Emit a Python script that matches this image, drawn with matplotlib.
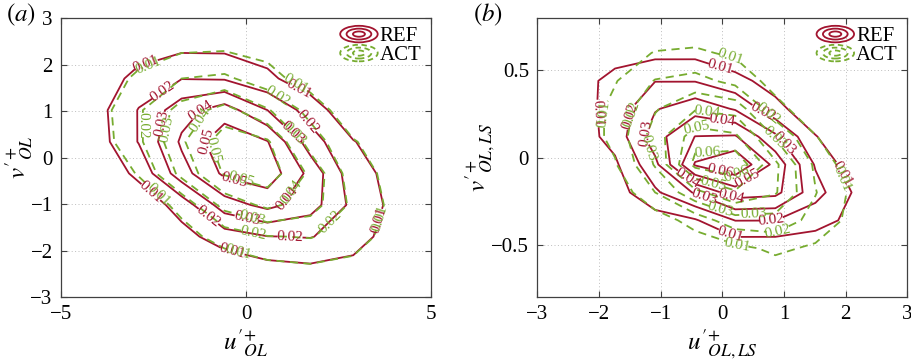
import matplotlib
matplotlib.use("Agg")
import numpy as np
import matplotlib.pyplot as plt
from matplotlib.legend_handler import HandlerBase
from matplotlib.patches import Ellipse
from matplotlib.lines import Line2D
from matplotlib.ticker import FuncFormatter, MultipleLocator

plt.rcParams["font.family"] = "serif"
plt.rcParams["font.serif"] = ["Liberation Serif", "DejaVu Serif"]
plt.rcParams["mathtext.fontset"] = "stix"

levels = [0.01, 0.02, 0.03, 0.04, 0.05, 0.06]

# ---- (a) joint PDF of u'+ and v'+ (bin centres, rows = v, columns = u) ----
u_a = [-4.06, -2.90, -1.74, -0.58, 0.58, 1.74, 2.90, 4.06]
v_a = [-2.38, -1.70, -1.02, -0.34, 0.34, 1.02, 1.70, 2.38]
pdf_ref_a = [
    [0.0001, 0.0004, 0.0020, 0.0030, 0.0066, 0.0082, 0.0065, 0.0015],
    [0.0002, 0.0012, 0.0065, 0.0149, 0.0197, 0.0205, 0.0150, 0.0044],
    [0.0005, 0.0031, 0.0140, 0.0353, 0.0430, 0.0345, 0.0172, 0.0069],
    [0.0015, 0.0125, 0.0360, 0.0520, 0.0562, 0.0370, 0.0137, 0.0068],
    [0.0049, 0.0205, 0.0416, 0.0567, 0.0505, 0.0247, 0.0105, 0.0030],
    [0.0060, 0.0205, 0.0360, 0.0450, 0.0300, 0.0155, 0.0020, 0.0008],
    [0.0020, 0.0140, 0.0197, 0.0190, 0.0121, 0.0040, 0.0010, 0.0003],
    [0.0010, 0.0040, 0.0077, 0.0076, 0.0055, 0.0015, 0.0004, 0.0001],
]
pdf_act_a = [
    [0.0001, 0.0004, 0.0018, 0.0030, 0.0066, 0.0083, 0.0066, 0.0016],
    [0.0002, 0.0010, 0.0060, 0.0142, 0.0195, 0.0206, 0.0152, 0.0045],
    [0.0004, 0.0027, 0.0130, 0.0335, 0.0425, 0.0350, 0.0175, 0.0070],
    [0.0012, 0.0108, 0.0330, 0.0510, 0.0560, 0.0380, 0.0140, 0.0068],
    [0.0040, 0.0180, 0.0385, 0.0555, 0.0515, 0.0255, 0.0108, 0.0031],
    [0.0050, 0.0185, 0.0340, 0.0440, 0.0310, 0.0165, 0.0024, 0.0009],
    [0.0017, 0.0125, 0.0200, 0.0220, 0.0140, 0.0048, 0.0012, 0.0003],
    [0.0008, 0.0036, 0.0076, 0.0082, 0.0062, 0.0018, 0.0005, 0.0001],
]

# ---- (b) joint PDF of the large-scale parts ----
u_b = [-2.39, -1.74, -1.09, -0.44, 0.21, 0.86, 1.51, 2.16]
v_b = [-0.68, -0.52, -0.36, -0.20, -0.04, 0.12, 0.28, 0.44, 0.60, 0.76]
pdf_ref_b = [
    [0.0000, 0.0001, 0.0004, 0.0008, 0.0010, 0.0008, 0.0010, 0.0008],
    [0.0001, 0.0005, 0.0015, 0.0030, 0.0030, 0.0030, 0.0045, 0.0030],
    [0.0003, 0.0015, 0.0050, 0.0090, 0.0202, 0.0201, 0.0133, 0.0075],
    [0.0010, 0.0051, 0.0183, 0.0310, 0.0450, 0.0429, 0.0240, 0.0085],
    [0.0025, 0.0083, 0.0273, 0.0610, 0.0690, 0.0470, 0.0190, 0.0030],
    [0.0045, 0.0135, 0.0360, 0.0502, 0.0510, 0.0320, 0.0105, 0.0010],
    [0.0052, 0.0139, 0.0291, 0.0363, 0.0290, 0.0130, 0.0030, 0.0003],
    [0.0079, 0.0115, 0.0197, 0.0195, 0.0130, 0.0060, 0.0010, 0.0001],
    [0.0030, 0.0081, 0.0071, 0.0072, 0.0034, 0.0015, 0.0003, 0.0000],
    [0.0010, 0.0020, 0.0020, 0.0020, 0.0008, 0.0003, 0.0001, 0.0000],
]
pdf_act_b = [
    [0.0000, 0.0000, 0.0001, 0.0008, 0.0015, 0.0043, 0.0030, 0.0010],
    [0.0001, 0.0002, 0.0003, 0.0025, 0.0075, 0.0119, 0.0085, 0.0030],
    [0.0002, 0.0008, 0.0040, 0.0145, 0.0257, 0.0263, 0.0165, 0.0065],
    [0.0008, 0.0020, 0.0200, 0.0370, 0.0486, 0.0410, 0.0205, 0.0070],
    [0.0015, 0.0090, 0.0310, 0.0630, 0.0680, 0.0420, 0.0180, 0.0026],
    [0.0020, 0.0130, 0.0350, 0.0555, 0.0520, 0.0290, 0.0105, 0.0010],
    [0.0020, 0.0130, 0.0290, 0.0390, 0.0360, 0.0135, 0.0030, 0.0003],
    [0.0015, 0.0093, 0.0205, 0.0235, 0.0168, 0.0060, 0.0010, 0.0001],
    [0.0010, 0.0050, 0.0105, 0.0115, 0.0084, 0.0020, 0.0003, 0.0000],
    [0.0003, 0.0015, 0.0030, 0.0040, 0.0020, 0.0005, 0.0001, 0.0000],
]

REF_COLOR = "#A2142F"
ACT_COLOR = "#77AC30"

# inline label spots for each panel
lab_ref_a = [(-2.68, 1.95), (1.46, 1.52), (-2.68, -0.84), (3.53, -1.34), (-0.34, -1.95),
             (-2.23, 1.38), (1.68, 0.77), (-1.06, -1.31), (1.19, -1.76),
             (-2.28, 0.73), (1.28, 0.56), (0.02, -1.31),
             (-1.24, 1.02), (1.0, -0.84), (-1.11, 0.38), (-0.34, -0.56)]
lab_act_a = [(-2.6, 1.88), (1.35, 1.6), (-2.5, -0.9), (3.6, -1.3), (-0.2, -1.98),
             (-2.64, 0.70), (0.87, 1.34), (0.2, -1.6), (2.27, -1.38),
             (-2.05, 0.59), (1.3, 0.5), (0.15, -1.35),
             (-1.33, 0.85), (1.19, -0.73), (-1.02, 0.13), (-0.16, -0.52)]
lab_ref_b = [(-0.04, 0.51), (-2.09, 0.25), (1.96, -0.09), (0.12, -0.44),
             (-1.52, 0.24), (0.66, 0.27), (0.8, -0.37),
             (-1.23, 0.14), (0.94, 0.06), (-0.31, -0.245),
             (-0.01, 0.205), (0.12, -0.245),
             (-0.55, -0.11), (0.45, -0.16), (-0.04, -0.09)]
lab_act_b = [(0.12, 0.55), (-1.93, 0.25), (1.96, -0.12), (0.23, -0.52),
             (-1.47, 0.25), (0.72, 0.24), (0.91, -0.43),
             (-1.25, 0.05), (0.8, 0.10), (-0.04, -0.31),
             (-0.25, 0.26), (0.5, -0.29),
             (-0.42, 0.17), (-0.15, -0.16), (-0.25, 0.04), (0.23, -0.09)]


class RingsHandler(HandlerBase):
    """Legend key drawn as a few concentric ellipses (contour glyph)."""

    def __init__(self, color, ls):
        super().__init__()
        self.color = color
        self.ls = ls

    def create_artists(self, legend, orig_handle, xdescent, ydescent,
                       width, height, fontsize, trans):
        cx = 0.5 * width - xdescent
        cy = 0.5 * height - ydescent
        arts = []
        for f in (1.0, 0.66, 0.32):
            arts.append(Ellipse((cx, cy), width * f, height * 1.25 * f,
                                fill=False, edgecolor=self.color,
                                linestyle=self.ls, lw=1.3, transform=trans))
        return arts


def fmt_tick(v, pos):
    s = f"{v:g}"
    return s.replace("-", "\u2212")


def draw_panel(ax, u, v, zr, za, lab_r, lab_a, xlim, ylim, xstep, ystep):
    U, V = np.meshgrid(u, v)
    cr = ax.contour(U, V, np.array(zr), levels=levels, colors=REF_COLOR,
                    linewidths=1.3, linestyles="solid", zorder=3)
    ca = ax.contour(U, V, np.array(za), levels=levels, colors=ACT_COLOR,
                    linewidths=1.3, linestyles=[(0, (4.5, 3.0))], zorder=4)
    ax.clabel(cr, manual=lab_r, inline=True, inline_spacing=2,
              fontsize=11, fmt="%g")
    ax.clabel(ca, manual=lab_a, inline=True, inline_spacing=2,
              fontsize=11, fmt="%g")
    ax.set_xlim(*xlim)
    ax.set_ylim(*ylim)
    ax.xaxis.set_major_locator(MultipleLocator(xstep))
    ax.yaxis.set_major_locator(MultipleLocator(ystep))
    ax.xaxis.set_major_formatter(FuncFormatter(fmt_tick))
    ax.yaxis.set_major_formatter(FuncFormatter(fmt_tick))
    ax.grid(True, linestyle=(0, (1, 2.5)), color="#bdbdbd", linewidth=0.7, zorder=0)
    ax.tick_params(direction="in", top=True, right=True, length=4, width=0.8,
                   color="#404040", labelsize=15)
    ax.tick_params(axis="x", pad=6)
    ax.tick_params(axis="y", pad=6)
    for sp in ax.spines.values():
        sp.set_color("#404040")
        sp.set_linewidth(0.9)
    h_ref = Line2D([], [], color=REF_COLOR)
    h_act = Line2D([], [], color=ACT_COLOR)
    ax.legend([h_ref, h_act], ["REF", "ACT"],
              handler_map={h_ref: RingsHandler(REF_COLOR, "solid"),
                           h_act: RingsHandler(ACT_COLOR, (0, (3, 2)))},
              loc="upper right", bbox_to_anchor=(1.0, 1.0), frameon=False,
              fontsize=15, handlelength=1.8, handleheight=0.6,
              handletextpad=0.1, labelspacing=0.0, borderaxespad=0.25,
              borderpad=0.2)


fig = plt.figure(figsize=(9.11, 3.61), dpi=100)
ax_a = fig.add_axes([0.067, 0.177, 0.406, 0.773])
ax_b = fig.add_axes([0.5898, 0.177, 0.4061, 0.773])

draw_panel(ax_a, u_a, v_a, pdf_ref_a, pdf_act_a, lab_ref_a, lab_act_a,
           (-5, 5), (-3, 3), 5, 1)
draw_panel(ax_b, u_b, v_b, pdf_ref_b, pdf_act_b, lab_ref_b, lab_act_b,
           (-3, 3), (-0.8, 0.8), 1, 0.5)

ax_a.set_xlabel(r"${u'}^{+}_{OL}$", fontsize=18)
ax_a.set_ylabel(r"${v'}^{+}_{OL}$", fontsize=18)
ax_b.set_xlabel(r"${u'}^{+}_{OL,LS}$", fontsize=18)
ax_b.set_ylabel(r"${v'}^{+}_{OL,LS}$", fontsize=18)
ax_a.xaxis.set_label_coords(0.5, -0.11)
ax_b.xaxis.set_label_coords(0.5, -0.11)
ax_a.yaxis.set_label_coords(-0.07, 0.5)
ax_b.yaxis.set_label_coords(-0.11, 0.5)

fig.text(0.007, 0.958, r"$(a)$", fontsize=18, va="center", ha="left")
fig.text(0.519, 0.958, r"$(b)$", fontsize=18, va="center", ha="left")

fig.savefig("out.png", dpi=100)
